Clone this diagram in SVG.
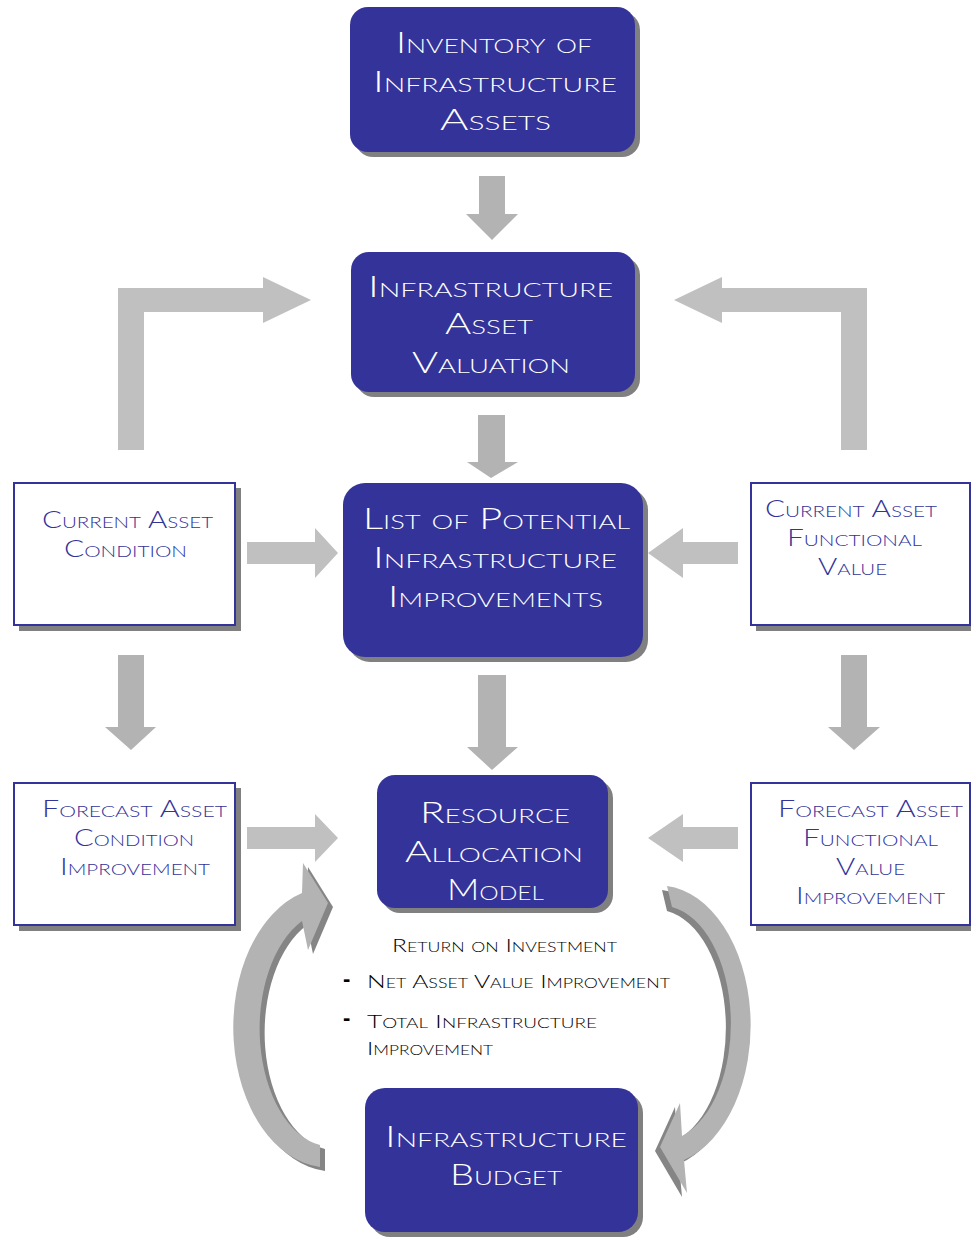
<svg xmlns="http://www.w3.org/2000/svg" width="971" height="1239" viewBox="0 0 971 1239">
<style>
.blue{fill:#333399}
.shadow{fill:#808080}
.wbox{fill:#ffffff;stroke:#333399;stroke-width:2}
.t{font-family:Lato,"Liberation Sans",sans-serif;font-weight:300;font-variant:small-caps}
.tw{fill:#ffffff;font-size:29px}
.tb{fill:#333399;font-size:23px}
.tk{fill:#000000;font-size:18px}
.dash{fill:#000000;font-family:"Liberation Sans",sans-serif;font-weight:bold;font-size:22px}
.arr{fill:#b3b3b3}
.arrl{fill:#c0c0c0}
.cs{fill:#858585}
.ca{fill:#b3b3b3}
</style>
<g id="connectors">
  <polygon class="arr" points="479,176 505,176 505,214 518,214 492,240 466,214 479,214"/>
  <polygon class="arr" points="478,415 505,415 505,462 518,462 491,478 467,462 478,462"/>
  <polygon class="arr" points="478,675 506,675 506,747 518,747 492,770 467,747 478,747"/>
  <polygon class="arr" points="118,655 144,655 144,727 156,727 131,750 105,727 118,727"/>
  <polygon class="arr" points="841,655 867,655 867,727 880,727 854,750 828,727 841,727"/>
  <polygon class="arrl" points="118,450 118,288 263,288 263,277 311,300 263,323 263,312 144,312 144,450"/>
  <polygon class="arrl" points="867,450 867,288 722,288 722,277 674,300 722,323 722,312 841,312 841,450"/>
  <polygon class="arrl" points="247,542 315,542 315,528 338,553 315,578 315,564 247,564"/>
  <polygon class="arrl" points="738,542 683,542 683,528 648,553 683,578 683,564 738,564"/>
  <polygon class="arrl" points="247,827 315,827 315,814 338,838 315,862 315,849 247,849"/>
  <polygon class="arrl" points="738,827 683,827 683,814 648,838 683,862 683,849 738,849"/>
  <g transform="translate(5,4)">
    <path class="cs" d="M320,1167 A95 140 0 0 1 302,893 L303,863 L328,903 L308,950 L302,921 A72 118 0 0 0 320,1145 Z"/>
  </g>
  <path class="ca" d="M320,1167 A95 140 0 0 1 302,893 L303,863 L328,903 L308,950 L302,921 A72 118 0 0 0 320,1145 Z"/>
  <g transform="translate(-5,4)">
    <path class="cs" d="M667,886 A92 140 0 0 1 684,1160 L687,1193 L660,1147 L680,1103 L682,1136 A70 118 0 0 0 672,907 Z"/>
  </g>
  <path class="ca" d="M667,886 A92 140 0 0 1 684,1160 L687,1193 L660,1147 L680,1103 L682,1136 A70 118 0 0 0 672,907 Z"/>
</g>
<g id="inventory">
  <rect class="shadow" x="355" y="12" width="285" height="145" rx="18"/>
  <rect class="blue" x="350" y="7" width="285" height="145" rx="18"/>
  <text class="t tw" x="396" y="53" textLength="196" lengthAdjust="spacingAndGlyphs">Inventory of</text>
  <text class="t tw" x="373" y="92" textLength="244" lengthAdjust="spacingAndGlyphs">Infrastructure</text>
  <text class="t tw" x="440" y="130" textLength="111" lengthAdjust="spacingAndGlyphs">Assets</text>
</g>
<g id="valuation">
  <rect class="shadow" x="356" y="257" width="284" height="140" rx="18"/>
  <rect class="blue" x="351" y="252" width="284" height="140" rx="18"/>
  <text class="t tw" x="368" y="297" textLength="245" lengthAdjust="spacingAndGlyphs">Infrastructure</text>
  <text class="t tw" x="445" y="334" textLength="88" lengthAdjust="spacingAndGlyphs">Asset</text>
  <text class="t tw" x="412" y="373" textLength="158" lengthAdjust="spacingAndGlyphs">Valuation</text>
</g>
<g id="potential">
  <rect class="shadow" x="348" y="488" width="300" height="174" rx="22"/>
  <rect class="blue" x="343" y="483" width="300" height="174" rx="22"/>
  <text class="t tw" x="363" y="529" textLength="267" lengthAdjust="spacingAndGlyphs">List of Potential</text>
  <text class="t tw" x="373" y="568" textLength="244" lengthAdjust="spacingAndGlyphs">Infrastructure</text>
  <text class="t tw" x="388" y="607" textLength="215" lengthAdjust="spacingAndGlyphs">Improvements</text>
</g>
<g id="resource">
  <rect class="shadow" x="382" y="780" width="231" height="133" rx="18"/>
  <rect class="blue" x="377" y="775" width="231" height="133" rx="18"/>
  <text class="t tw" x="420" y="823" textLength="150" lengthAdjust="spacingAndGlyphs">Resource</text>
  <text class="t tw" x="405" y="862" textLength="178" lengthAdjust="spacingAndGlyphs">Allocation</text>
  <text class="t tw" x="447" y="900" textLength="97" lengthAdjust="spacingAndGlyphs">Model</text>
</g>
<g id="budget">
  <rect class="shadow" x="370" y="1093" width="273" height="144" rx="20"/>
  <rect class="blue" x="365" y="1088" width="273" height="144" rx="20"/>
  <text class="t tw" x="385" y="1147" textLength="242" lengthAdjust="spacingAndGlyphs">Infrastructure</text>
  <text class="t tw" x="450" y="1185" textLength="112" lengthAdjust="spacingAndGlyphs">Budget</text>
</g>
<g id="current-condition">
  <rect class="shadow" x="19" y="488" width="222" height="143"/>
  <rect class="wbox" x="14" y="483" width="221" height="142"/>
  <text class="t tb" x="42" y="528" textLength="171" lengthAdjust="spacingAndGlyphs">Current Asset</text>
  <text class="t tb" x="64" y="557" textLength="123" lengthAdjust="spacingAndGlyphs">Condition</text>
</g>
<g id="current-functional">
  <rect class="shadow" x="756" y="488" width="220" height="143"/>
  <rect class="wbox" x="751" y="483" width="219" height="142"/>
  <text class="t tb" x="765" y="517" textLength="172" lengthAdjust="spacingAndGlyphs">Current Asset</text>
  <text class="t tb" x="787" y="546" textLength="135" lengthAdjust="spacingAndGlyphs">Functional</text>
  <text class="t tb" x="818" y="575" textLength="69" lengthAdjust="spacingAndGlyphs">Value</text>
</g>
<g id="forecast-condition">
  <rect class="shadow" x="19" y="788" width="222" height="143"/>
  <rect class="wbox" x="14" y="783" width="221" height="142"/>
  <text class="t tb" x="42" y="817" textLength="185" lengthAdjust="spacingAndGlyphs">Forecast Asset</text>
  <text class="t tb" x="74" y="846" textLength="120" lengthAdjust="spacingAndGlyphs">Condition</text>
  <text class="t tb" x="60" y="875" textLength="150" lengthAdjust="spacingAndGlyphs">Improvement</text>
</g>
<g id="forecast-functional">
  <rect class="shadow" x="756" y="788" width="220" height="143"/>
  <rect class="wbox" x="751" y="783" width="219" height="142"/>
  <text class="t tb" x="778" y="817" textLength="185" lengthAdjust="spacingAndGlyphs">Forecast Asset</text>
  <text class="t tb" x="803" y="846" textLength="135" lengthAdjust="spacingAndGlyphs">Functional</text>
  <text class="t tb" x="836" y="875" textLength="69" lengthAdjust="spacingAndGlyphs">Value</text>
  <text class="t tb" x="796" y="904" textLength="149" lengthAdjust="spacingAndGlyphs">Improvement</text>
</g>
<g id="roi-label">
  <text class="t tk" x="392" y="952" textLength="225" lengthAdjust="spacingAndGlyphs">Return on Investment</text>
  <text class="dash" x="343" y="986">-</text>
  <text class="t tk" x="367" y="988" textLength="303" lengthAdjust="spacingAndGlyphs">Net Asset Value Improvement</text>
  <text class="dash" x="343" y="1025">-</text>
  <text class="t tk" x="367" y="1028" textLength="230" lengthAdjust="spacingAndGlyphs">Total Infrastructure</text>
  <text class="t tk" x="367" y="1055" textLength="126" lengthAdjust="spacingAndGlyphs">Improvement</text>
</g>
</svg>
